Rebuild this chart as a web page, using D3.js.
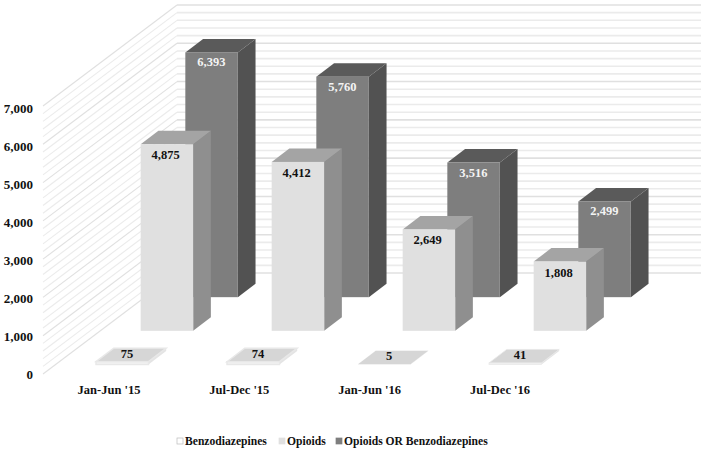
<!DOCTYPE html>
<html>
<head>
<meta charset="utf-8">
<script src="https://cdn.jsdelivr.net/npm/d3@7"></script>
<style>
body { margin: 0; background: #fff; }
text { font-family: "Liberation Serif", serif; font-weight: bold; }
</style>
</head>
<body>
<div id="svg1"></div>
<script>
var categories = ["Jan-Jun '15", "Jul-Dec '15", "Jan-Jun '16", "Jul-Dec '16"];
var benzo = [75, 74, 5, 41];
var opioids = [4875, 4412, 2649, 1808];
var either = [6393, 5760, 3516, 2499];
var tickValues = [0, 1000, 2000, 3000, 4000, 5000, 6000, 7000];
var legendLabels = ["Benzodiazepines", "Opioids", "Opioids OR Benzodiazepines"];

var width = 706, height = 452;

var svg = d3.select("#svg1")
  .append("svg")
  .attr("width", width)
  .attr("height", height)
  .style("display", "block");

// bar height in pixels
var hScale = d3.scaleLinear().domain([0, 7000]).range([0, 268]);
// left edge of the front face for each category
var xScale = d3.scalePoint().domain(categories).range([96, 489]);
// each series sits further back, so it moves right and up
var depthX = d3.scaleLinear().domain([0, 3]).range([0, 134]);
var depthY = d3.scaleLinear().domain([0, 3]).range([364.5, 263.5]);

var barW = 52.5, sideX = 17.7, sideY = 13.5;

// ---- walls and gridlines
var wallX0 = 43, wallX1 = 177, wallR = 701, wallBase = 374, backBase = 273;
var grid = d3.range(0, 7001, 200);

svg.append("g").selectAll("line")
  .data(grid)
  .enter().append("line")
  .attr("x1", wallX1).attr("x2", wallR)
  .attr("y1", function(d) { return backBase - hScale(d); })
  .attr("y2", function(d) { return backBase - hScale(d); })
  .attr("stroke", function(d) { return d % 1000 == 0 ? "#e0e0e0" : "#ebebeb"; })
  .attr("stroke-width", 1.6);

svg.append("g").selectAll("line")
  .data(grid)
  .enter().append("line")
  .attr("x1", wallX0).attr("x2", wallX1)
  .attr("y1", function(d) { return wallBase - hScale(d); })
  .attr("y2", function(d) { return backBase - hScale(d); })
  .attr("stroke", function(d) { return d % 1000 == 0 ? "#e0e0e0" : "#ebebeb"; })
  .attr("stroke-width", 1.1);

// ---- bars, back series first
function drawSeries(values, seriesIndex, colors) {
  var g = svg.append("g");
  values.forEach(function(v, i) {
    var x = xScale(categories[i]) + depthX(seriesIndex);
    var base = depthY(seriesIndex);
    var top = base - hScale(v);
    // thin plates get a light rim that grows with the value
    var rim = colors.edge ? hScale(v) * 0.5 : 0;
    g.append("polygon") // side
      .attr("points", [[x + barW, base], [x + barW + sideX, base - sideY], [x + barW + sideX, top - sideY], [x + barW, top]].join(" "))
      .attr("fill", colors.side);
    g.append("polygon") // top
      .attr("points", [[x, top], [x + barW, top], [x + barW + sideX, top - sideY], [x + sideX, top - sideY]].join(" "))
      .attr("fill", colors.top)
      .attr("stroke", colors.edge || "none")
      .attr("stroke-width", rim);
    g.append("rect") // front
      .attr("x", x).attr("y", top)
      .attr("width", barW).attr("height", base - top)
      .attr("fill", colors.front)
      .attr("stroke", colors.edge || "none")
      .attr("stroke-width", rim);
  });
}

drawSeries(either, 2, {front: "#7e7e7e", side: "#525252", top: "#5a5a5a"});
drawSeries(opioids, 1, {front: "#e0e0e0", side: "#8f8f8f", top: "#a4a4a4"});
drawSeries(benzo, 0, {front: "#f2f2f2", side: "#e4e4e4", top: "#d6d6d6", edge: "#e8e8e8"});

// ---- value labels
function drawLabels(values, seriesIndex, color, offX, offY) {
  svg.append("g").selectAll("text")
    .data(values)
    .enter().append("text")
    .attr("x", function(d, i) { return xScale(categories[i]) + depthX(seriesIndex) + offX; })
    .attr("y", function(d) { return depthY(seriesIndex) - hScale(d) + offY; })
    .attr("text-anchor", "middle")
    .attr("font-size", "12.5px")
    .attr("fill", color)
    .text(d3.format(","));
}

drawLabels(either, 2, "#f4f4f4", 26, 14);
drawLabels(opioids, 1, "#111", 25, 15);
drawLabels(benzo, 0, "#111", 31, -4);

// ---- y axis
var yScale = d3.scaleLinear().domain([0, 7000]).range([374, 108]);
var yAxis = d3.axisLeft(yScale).tickValues(tickValues).tickSize(0).tickPadding(0).tickFormat(d3.format(","));

var gY = svg.append("g")
  .attr("transform", "translate(33,0)")
  .call(yAxis);
gY.select(".domain").remove();
gY.selectAll("text")
  .attr("font-size", "13px")
  .attr("font-family", "Liberation Serif")
  .attr("fill", "#111");

// ---- category labels
var labelScale = d3.scalePoint().domain(categories).range([109, 500]);

svg.append("g").selectAll("text")
  .data(categories)
  .enter().append("text")
  .attr("x", function(d) { return labelScale(d); })
  .attr("y", 394)
  .attr("text-anchor", "middle")
  .attr("font-size", "12.5px")
  .attr("fill", "#111")
  .text(function(d) { return d; });

// ---- legend
var legendX = [185, 287, 344];
var legendFill = ["#fff", "#e0e0e0", "#7e7e7e"];
var legendStroke = ["#bbb", "#e0e0e0", "#7e7e7e"];

var legend = svg.append("g").selectAll("g")
  .data(legendLabels)
  .enter().append("g")
  .attr("transform", function(d, i) { return "translate(" + legendX[i] + ",441)"; });

legend.append("rect")
  .attr("x", -8).attr("y", -3)
  .attr("width", 6).attr("height", 6)
  .attr("fill", function(d, i) { return legendFill[i]; })
  .attr("stroke", function(d, i) { return legendStroke[i]; })
  .attr("stroke-width", 0.7);

legend.append("text")
  .attr("y", 4)
  .attr("font-size", "11.6px")
  .attr("fill", "#111")
  .text(function(d) { return d; });
</script>
</body>
</html>
